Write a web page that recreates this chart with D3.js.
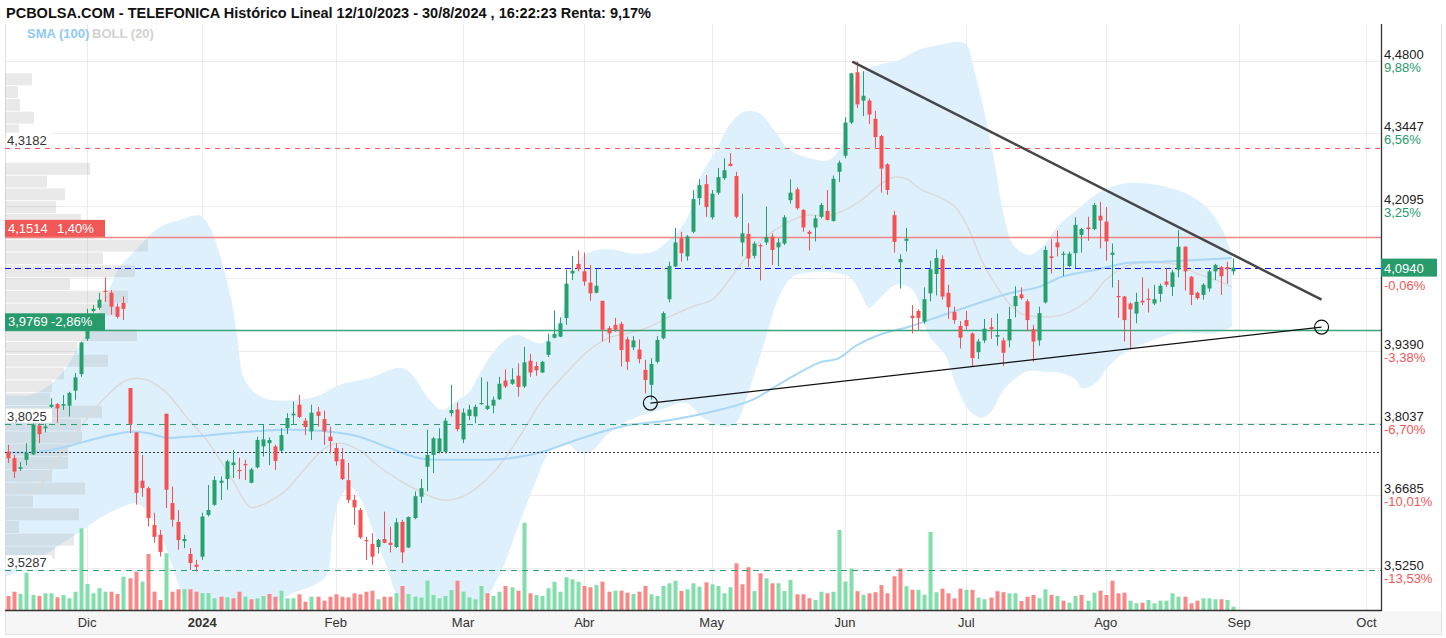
<!DOCTYPE html>
<html><head><meta charset="utf-8">
<script src="https://cdn.jsdelivr.net/npm/d3@7"></script>
<style>body{margin:0;background:#fff;}svg{display:block;font-family:"Liberation Sans",Arial,sans-serif;}</style>
</head><body><svg id="c" width="1446" height="638"></svg>
<script>
// ---------- DATA (one trading day per index, 14/11/2023 .. 30/08/2024) ----------
const open = [3.750,3.738,3.718,3.735,3.745,3.799,3.794,3.834,3.839,3.836,
 3.836,3.864,3.895,3.961,4.013,4.019,4.051,4.047,4.021,4.028,
 3.869,3.786,3.696,3.682,3.613,3.595,3.821,3.654,3.619,3.583,
 3.559,3.539,3.554,3.632,3.651,3.692,3.699,3.725,3.716,3.727,
 3.692,3.721,3.760,3.766,3.760,3.752,3.794,3.818,3.838,3.808,
 3.788,3.825,3.811,3.778,3.757,3.736,3.697,3.660,3.641,3.585,
 3.578,3.572,3.587,3.580,3.572,3.619,3.571,3.626,3.666,3.722,
 3.744,3.750,3.750,3.822,3.829,3.773,3.817,3.816,3.839,3.830,
 3.836,3.848,3.883,3.877,3.892,3.872,3.920,3.910,3.898,3.931,
 3.963,3.965,4.000,4.083,4.101,4.087,4.066,4.047,4.032,3.981,
 3.987,3.989,3.960,3.945,3.941,3.903,3.875,3.918,3.962,4.035,
 4.096,4.149,4.115,4.161,4.224,4.250,4.188,4.234,4.261,4.288,
 4.265,4.141,4.157,4.116,4.136,4.141,4.152,4.132,4.139,4.220,
 4.240,4.202,4.161,4.169,4.189,4.200,4.181,4.273,4.303,4.365,
 4.459,4.406,4.406,4.372,4.340,4.287,4.192,4.104,4.144,4.004,
 4.013,3.993,4.046,4.082,4.110,4.047,4.011,3.985,3.996,3.971,
 3.936,3.958,3.983,3.965,3.958,3.958,4.022,4.044,4.031,3.979,
 3.958,4.029,4.115,4.141,4.118,4.097,4.121,4.155,4.169,4.166,
 4.191,4.180,4.118,4.041,4.040,4.027,4.008,4.032,4.036,4.027,
 4.045,4.068,4.058,4.090,4.133,4.077,4.047,4.043,4.055,4.087,
 4.095,4.095,4.087];
const high = [3.763,3.744,3.731,3.766,3.803,3.803,3.802,3.850,3.841,3.856,
 3.862,3.897,3.956,4.017,4.024,4.047,4.076,4.052,4.027,4.040,
 3.869,3.786,3.744,3.685,3.636,3.604,3.821,3.685,3.641,3.595,
 3.570,3.548,3.636,3.688,3.704,3.704,3.735,3.753,3.739,3.735,
 3.720,3.778,3.800,3.777,3.763,3.794,3.822,3.844,3.856,3.813,
 3.838,3.834,3.827,3.797,3.766,3.757,3.729,3.669,3.645,3.591,
 3.598,3.587,3.638,3.610,3.626,3.623,3.629,3.676,3.699,3.791,
 3.778,3.794,3.813,3.875,3.842,3.831,3.838,3.838,3.889,3.881,
 3.853,3.890,3.904,3.906,3.915,3.946,3.933,3.918,3.920,3.971,
 4.014,4.001,4.090,4.116,4.126,4.122,4.099,4.091,4.032,3.985,
 4.000,3.993,3.965,3.966,3.960,3.922,3.925,3.966,4.012,4.105,
 4.168,4.161,4.155,4.239,4.259,4.267,4.239,4.280,4.298,4.308,
 4.273,4.232,4.177,4.143,4.139,4.208,4.158,4.149,4.192,4.259,
 4.244,4.203,4.164,4.192,4.215,4.239,4.266,4.294,4.375,4.458,
 4.479,4.461,4.410,4.387,4.342,4.289,4.200,4.119,4.168,4.024,
 4.016,4.057,4.107,4.128,4.117,4.062,4.021,3.994,4.013,3.973,
 3.961,3.998,4.000,4.008,3.963,4.021,4.059,4.057,4.035,3.987,
 4.021,4.134,4.147,4.163,4.124,4.124,4.188,4.168,4.189,4.215,
 4.217,4.207,4.139,4.071,4.041,4.029,4.047,4.076,4.055,4.062,
 4.064,4.093,4.090,4.164,4.134,4.078,4.049,4.065,4.090,4.101,
 4.097,4.105,4.111];
const low = [3.729,3.701,3.714,3.725,3.744,3.766,3.786,3.832,3.804,3.828,
 3.816,3.847,3.890,3.957,4.010,4.015,4.030,4.006,3.999,3.996,
 3.785,3.651,3.666,3.610,3.580,3.554,3.645,3.610,3.567,3.570,
 3.529,3.526,3.548,3.629,3.649,3.660,3.679,3.701,3.699,3.697,
 3.691,3.719,3.741,3.725,3.716,3.750,3.783,3.800,3.813,3.781,
 3.772,3.797,3.763,3.747,3.724,3.697,3.654,3.613,3.587,3.548,
 3.539,3.560,3.579,3.562,3.570,3.542,3.570,3.624,3.654,3.676,
 3.710,3.747,3.747,3.816,3.788,3.766,3.809,3.803,3.838,3.828,
 3.822,3.847,3.869,3.875,3.853,3.869,3.890,3.892,3.897,3.927,
 3.962,3.964,3.987,4.071,4.087,4.060,4.032,4.046,3.956,3.953,
 3.974,3.909,3.903,3.940,3.915,3.859,3.847,3.915,3.960,4.029,
 4.095,4.105,4.107,4.158,4.211,4.189,4.184,4.230,4.258,4.283,
 4.186,4.115,4.095,4.111,4.070,4.136,4.099,4.097,4.136,4.214,
 4.202,4.161,4.126,4.143,4.186,4.182,4.180,4.254,4.298,4.362,
 4.392,4.377,4.362,4.318,4.234,4.230,4.122,4.055,4.124,3.971,
 3.978,3.989,4.031,4.042,4.034,3.998,3.989,3.943,3.978,3.910,
 3.923,3.953,3.961,3.948,3.910,3.945,4.001,4.034,3.975,3.918,
 3.948,4.027,4.083,4.115,4.078,4.095,4.093,4.122,4.144,4.164,
 4.130,4.107,4.057,4.000,3.956,3.941,3.990,4.024,4.010,4.024,
 4.030,4.058,4.041,4.076,4.051,4.024,4.034,4.034,4.049,4.071,
 4.043,4.064,4.080];
const close = [3.738,3.713,3.721,3.748,3.801,3.783,3.797,3.838,3.831,3.839,
 3.860,3.889,3.954,4.000,4.017,4.034,4.049,4.021,4.002,4.017,
 3.802,3.673,3.682,3.626,3.591,3.563,3.679,3.623,3.585,3.587,
 3.542,3.535,3.629,3.641,3.697,3.696,3.732,3.730,3.714,3.725,
 3.717,3.772,3.773,3.772,3.733,3.781,3.813,3.821,3.815,3.796,
 3.823,3.817,3.788,3.770,3.732,3.699,3.660,3.646,3.590,3.583,
 3.554,3.585,3.580,3.576,3.618,3.562,3.628,3.667,3.682,3.744,
 3.775,3.775,3.808,3.828,3.792,3.823,3.829,3.834,3.841,3.836,
 3.847,3.877,3.872,3.885,3.871,3.917,3.898,3.902,3.918,3.956,
 3.970,3.990,4.064,4.088,4.091,4.068,4.046,4.060,3.978,3.971,
 3.978,3.940,3.918,3.958,3.923,3.884,3.914,3.959,4.009,4.097,
 4.141,4.121,4.152,4.222,4.248,4.207,4.232,4.263,4.276,4.284,
 4.189,4.158,4.111,4.139,4.134,4.151,4.127,4.141,4.188,4.234,
 4.205,4.169,4.157,4.186,4.211,4.183,4.260,4.290,4.365,4.457,
 4.399,4.415,4.380,4.338,4.279,4.239,4.142,4.110,4.148,4.000,
 4.000,4.035,4.091,4.112,4.040,4.020,3.996,3.963,3.985,3.925,
 3.956,3.980,3.979,3.968,3.935,3.998,4.041,4.037,3.996,3.956,
 4.009,4.127,4.112,4.132,4.120,4.120,4.174,4.166,4.166,4.211,
 4.182,4.143,4.122,4.039,3.996,4.016,4.030,4.029,4.034,4.035,
 4.060,4.062,4.085,4.133,4.087,4.043,4.037,4.062,4.087,4.099,
 4.078,4.091,4.094];
const volume = [14,18.3,16,37.3,15,14,16.7,16.7,12.7,15,
 11.7,18.3,81.7,26,16.7,21.7,18.3,18.3,16,33.3,
 31.7,38.3,28.3,56,18.3,10,56.7,18.3,20.7,20.7,
 20.7,18.3,17,17,11.7,13.3,12.7,11.7,18.3,13.3,
 10.7,11.7,14,16,13.3,19.3,11.7,11.7,15.7,8.3,
 13.3,13.3,9.3,13.3,15.7,13.3,12.7,16.7,15.7,18.3,
 19.3,10.7,13.3,13.3,16.7,24,16,13.3,12.5,29.3,
 15,11.7,14,20,29.3,18.3,12.7,10.7,24,16.7,
 14,18.3,24,22.7,19.3,87.3,16.7,15,14,21.7,
 28.3,18.3,32.7,30.7,28.3,24,22.7,25,28.3,18.3,
 19.3,19.3,17.3,16,18.3,24,15.7,14,24,26.7,
 29.3,19,20.7,26.7,23.3,27.7,25.7,24,16.7,22.7,
 46.7,25.7,42.7,19,36.7,31.7,26.7,26.7,19,30,
 15.7,15.7,11.7,10,18.3,16.7,18.3,80,28.4,41.5,
 18.8,15.3,16.7,17.8,24.9,16.7,33.7,41.5,23.8,20.2,
 20.2,15.3,78,17.8,21.3,16.7,11.7,21.3,20.2,20.2,
 12.4,10.7,12.4,18.8,17.8,16.7,16.7,8.9,13.2,15,
 11.7,20.7,15,14,9.3,7.3,14,15,9.3,17.3,
 19.3,15,29.3,16.7,17.3,9.3,6.7,7.3,10,6.7,
 9.3,9.3,16.7,13.3,13.3,6.7,9.3,11.7,11.7,10.7,
 10.7,10,3.3];

// month ticks (trading-day index of first session of the month)
const monthLabels = ["Dic","2024","Feb","Mar","Abr","May","Jun","Jul","Ago","Sep","Oct"];
const monthIndex  = [13,32,54,75,95,116,138,158,181,203,224];

// right price axis
const priceTicks = [4.48,4.3447,4.2095,3.939,3.8037,3.6685,3.525];
const priceTickText = ["4,4800","4,3447","4,2095","3,9390","3,8037","3,6685","3,5250"];
const pctTickText = ["9,88%","6,56%","3,25%","-3,38%","-6,70%","-10,01%","-13,53%"];
const gridPrices = [4.48,4.3447,4.2095,4.0742,3.939,3.8037,3.6685,3.5333];
const lastPrice = 4.094, lastPctText = "-0,06%";

// indicators: [day index, price]
const bollUpper = [[-0.5,3.856],[3.6,3.856],[6.9,3.875],[9.3,3.903],[11.8,3.950],[14.0,3.987],[16.8,4.058],[18.4,4.095],[20.5,4.121],[25.0,4.170],[28.3,4.183],[31.6,4.191],[33.2,4.170],[34.9,4.118],[36.0,4.071],[37.0,4.021],[37.8,3.959],[39.0,3.884],[42.0,3.851],[48.1,3.847],[51.4,3.856],[54.6,3.875],[59.6,3.888],[64.5,3.907],[66.2,3.899],[69.5,3.847],[71.6,3.828],[73.6,3.843],[76.1,3.862],[77.2,3.884],[79.9,3.935],[82.7,3.965],[84.3,3.968],[85.9,3.959],[88.1,3.953],[90.9,3.996],[92.5,4.065],[94.7,4.114],[97.0,4.127],[100.3,4.127],[102.4,4.121],[106.2,4.123],[109.0,4.146],[111.8,4.183],[113.9,4.258],[116.8,4.314],[118.9,4.360],[121.4,4.385],[123.8,4.383],[126.3,4.351],[128.8,4.314],[132.1,4.299],[135.4,4.295],[137.8,4.332],[140.3,4.454],[143.6,4.473],[146.9,4.482],[150.2,4.501],[153.5,4.510],[156.8,4.516],[158.1,4.510],[159.3,4.463],[160.9,4.389],[162.6,4.295],[164.2,4.192],[165.8,4.136],[168.3,4.118],[170.8,4.136],[173.3,4.174],[176.6,4.205],[179.0,4.228],[181.5,4.243],[184.8,4.252],[189.7,4.248],[194.7,4.230],[198.0,4.202],[200.4,4.161],[201.8,4.118]];
const bollLower = [[-0.5,3.516],[3.6,3.539],[8.5,3.576],[12.3,3.604],[15.1,3.626],[18.4,3.645],[21.2,3.654],[23.3,3.632],[25.8,3.576],[27.8,3.511],[29.9,3.445],[33.2,3.380],[38.2,3.399],[41.5,3.445],[46.4,3.483],[50.5,3.501],[52.5,3.520],[53.5,3.604],[54.6,3.660],[56.3,3.684],[57.9,3.666],[60.1,3.604],[62.4,3.535],[64.0,3.483],[66.2,3.445],[71.1,3.445],[77.7,3.464],[81.0,3.520],[84.3,3.617],[87.1,3.697],[89.2,3.748],[92.0,3.766],[94.2,3.748],[95.8,3.748],[99.1,3.785],[102.4,3.809],[107.4,3.828],[111.8,3.841],[114.4,3.815],[118.4,3.796],[120.0,3.804],[122.2,3.866],[125.0,3.965],[127.1,4.039],[129.3,4.077],[131.6,4.084],[134.9,4.086],[138.7,4.077],[140.8,4.041],[141.9,4.019],[144.1,4.041],[146.4,4.062],[149.0,4.054],[150.2,4.028],[151.8,3.968],[154.6,3.929],[156.3,3.875],[158.4,3.828],[160.6,3.813],[162.2,3.826],[163.9,3.862],[166.2,3.888],[168.3,3.901],[171.1,3.899],[173.8,3.897],[176.1,3.884],[177.1,3.869],[179.4,3.879],[181.0,3.903],[182.6,3.922],[184.8,3.940],[187.6,3.953],[190.2,3.965],[193.0,3.972],[195.8,3.972],[199.1,3.972],[201.8,3.983]];
const bollMid = [[-0.2,3.692],[3.6,3.673],[9.7,3.762],[15.1,3.841],[19.6,3.884],[22.9,3.884],[26.1,3.860],[29.4,3.815],[32.7,3.772],[37.0,3.697],[39.8,3.647],[41.0,3.647],[45.3,3.673],[49.2,3.722],[52.5,3.759],[54.6,3.766],[57.9,3.753],[61.2,3.722],[64.5,3.697],[67.3,3.679],[71.6,3.660],[74.9,3.666],[79.9,3.710],[84.3,3.778],[88.1,3.847],[92.0,3.897],[95.8,3.940],[99.1,3.963],[102.4,3.972],[105.2,3.981],[109.0,4.002],[112.8,4.021],[116.1,4.034],[118.9,4.071],[121.7,4.114],[124.3,4.146],[128.3,4.177],[131.6,4.192],[135.4,4.191],[139.8,4.213],[143.6,4.247],[145.7,4.262],[148.1,4.260],[150.7,4.239],[153.5,4.226],[156.3,4.206],[158.4,4.166],[160.6,4.106],[162.9,4.061],[165.0,4.028],[167.2,4.007],[170.0,4.002],[173.8,4.006],[178.2,4.034],[181.0,4.071],[184.8,4.099],[189.2,4.103],[193.0,4.099],[195.8,4.084],[199.1,4.071],[201.8,4.058]];
const sma100 = [[-0.5,3.748],[6.9,3.753],[12.3,3.768],[16.8,3.781],[20.0,3.787],[22.9,3.785],[26.1,3.776],[29.4,3.778],[33.2,3.781],[37.0,3.785],[45.3,3.791],[53.5,3.787],[57.9,3.778],[62.4,3.759],[67.8,3.738],[74.4,3.735],[82.7,3.738],[88.1,3.750],[93.7,3.772],[99.1,3.791],[102.4,3.800],[109.0,3.809],[117.2,3.828],[122.7,3.847],[128.3,3.884],[133.7,3.916],[137.0,3.925],[139.8,3.948],[143.6,3.968],[149.0,3.985],[154.6,4.007],[160.1,4.028],[165.5,4.047],[170.0,4.058],[173.8,4.077],[179.4,4.090],[184.8,4.103],[190.2,4.105],[195.8,4.108],[201.8,4.112]];

// volume-at-price profile (bins from the top price downward)
const profileTop = 4.457, profileStep = 0.0239;
const profileVol = [27,13,15,29,14,0,0,85,42,60,51,76,90,143,98,130,65,123,110,95,132,72,103,59,47,45,97,76,77,63,63,47,80,28,74,14,69,50];

// horizontal levels and trendlines
const levelPrices = [4.3182,4.1514,4.094,3.9769,3.8025,3.75,3.5287];
const trendUpper = [[139.2,4.479],[216.6,4.034]];
const trendLower = [[105.9,3.841],[216.6,3.983]];

// ---------- CHART ----------
const L=5,R=1381,T=24,B=610;
const svg=d3.select("#c");
const x=d3.scaleLinear().domain([-0.544,226.4]).range([L,R]);
const y=d3.scaleLinear().domain([3.8037,4.48]).range([423,61]);
const yv=d3.scaleLinear().domain([0,100]).range([B,B-100]);
const xp=d3.scaleLinear().domain([0,150]).range([L,L+150]);
const UP="#26a06c",DN="#f45252",VUP="#82dfab",VDN="#f98787";
const crisp=v=>Math.round(v)+0.5;

svg.append("defs").append("clipPath").attr("id","clip").append("rect")
  .attr("x",L).attr("y",T).attr("width",R-L).attr("height",B-T);

// frame & x-axis strip
svg.append("rect").attr("x",L).attr("y",611).attr("width",1441-L).attr("height",23).attr("fill","#f6f6f6");
svg.append("line").attr("x1",L+0.5).attr("x2",L+0.5).attr("y1",T).attr("y2",634).attr("stroke","#e2e2e2");
svg.append("line").attr("x1",1441.5).attr("x2",1441.5).attr("y1",T).attr("y2",634).attr("stroke","#e2e2e2");
svg.append("line").attr("x1",L).attr("x2",1442).attr("y1",634.5).attr("y2",634.5).attr("stroke","#e2e2e2");

// grid
const grid=svg.append("g");
grid.selectAll(".hg").data(gridPrices).join("line")
  .attr("x1",L).attr("x2",R).attr("y1",d=>crisp(y(d))).attr("y2",d=>crisp(y(d)))
  .attr("stroke","#ececec");
grid.selectAll(".vg").data(monthIndex).join("line")
  .attr("x1",d=>crisp(x(d))).attr("x2",d=>crisp(x(d))).attr("y1",T).attr("y2",B)
  .attr("stroke","#ececec");

const plot=svg.append("g").attr("clip-path","url(#clip)");

// Bollinger band
const curve=d3.curveCatmullRom.alpha(0.5);
const ln=d3.line().x(d=>x(d[0])).y(d=>y(d[1])).curve(curve);
const upPath=ln(bollUpper), loPath=ln(bollLower.slice().reverse());
plot.append("path").attr("d",upPath+"L"+loPath.slice(1)+"Z").attr("fill","#def0fc");

// volume profile
plot.selectAll(".pf").data(profileVol).join("rect")
  .attr("x",L).attr("width",d=>xp(d)-L)
  .attr("y",(d,k)=>y(profileTop-k*profileStep))
  .attr("height",(d,k)=>y(profileTop-(k+0.93)*profileStep)-y(profileTop-k*profileStep))
  .attr("fill","rgba(170,170,170,0.26)");

// volume bars
const idx=d3.range(open.length);
const vUp=i=> i===0 ? close[i]>=open[i] : close[i]>=close[i-1];
plot.selectAll(".vb").data(idx).join("rect")
  .attr("x",i=>Math.round(x(i))-1.5).attr("width",4)
  .attr("y",i=>yv(volume[i])).attr("height",i=>B-yv(volume[i]))
  .attr("fill",i=>vUp(i)?VUP:VDN);

// bollinger mid + SMA
plot.append("path").attr("d",ln(bollMid)).attr("fill","none").attr("stroke","#dadada").attr("stroke-width",1.5);
plot.append("path").attr("d",ln(sma100)).attr("fill","none").attr("stroke","#a9d7f7").attr("stroke-width",2);

// level lines
const lvlStyle=[
  {c:"#f25a5a",d:"5,5",w:1},
  {c:"#f28484",d:null,w:1.5},
  {c:"#1010ff",d:"6,4",w:1.2},
  {c:"#3aa57a",d:null,w:1.5},
  {c:"#2e9e70",d:"6,5",w:1},
  {c:"#333",d:"2,2",w:1},
  {c:"#2e9e70",d:"6,5",w:1}];
plot.selectAll(".lv").data(levelPrices).join("line")
  .attr("x1",L).attr("x2",R).attr("y1",d=>crisp(y(d))).attr("y2",d=>crisp(y(d)))
  .attr("stroke",(d,k)=>lvlStyle[k].c).attr("stroke-width",(d,k)=>lvlStyle[k].w)
  .attr("stroke-dasharray",(d,k)=>lvlStyle[k].d);

// candles
const cg=plot.append("g");
cg.selectAll(".wk").data(idx).join("line")
  .attr("x1",i=>crisp(x(i))).attr("x2",i=>crisp(x(i)))
  .attr("y1",i=>y(high[i])).attr("y2",i=>y(low[i]))
  .attr("stroke",i=>close[i]>=open[i]?UP:DN).attr("stroke-width",1);
cg.selectAll(".bd").data(idx).join("rect")
  .attr("x",i=>Math.round(x(i))-1.5).attr("width",4)
  .attr("y",i=>y(Math.max(open[i],close[i])))
  .attr("height",i=>Math.max(1.2,Math.abs(y(open[i])-y(close[i]))))
  .attr("fill",i=>close[i]>=open[i]?UP:DN);

// trendlines
plot.append("line").attr("x1",x(trendUpper[0][0])).attr("y1",y(trendUpper[0][1]))
  .attr("x2",x(trendUpper[1][0])).attr("y2",y(trendUpper[1][1]))
  .attr("stroke","#474747").attr("stroke-width",2.5);
plot.append("line").attr("x1",x(trendLower[0][0])).attr("y1",y(trendLower[0][1]))
  .attr("x2",x(trendLower[1][0])).attr("y2",y(trendLower[1][1]))
  .attr("stroke","#111").attr("stroke-width",1.3);
plot.selectAll(".tc").data(trendLower).join("circle")
  .attr("cx",d=>x(d[0])).attr("cy",d=>y(d[1])).attr("r",7)
  .attr("fill","none").attr("stroke","#111").attr("stroke-width",1.2);

// left level labels
const fs="13px";
function plainLabel(txt,price,dy){
  const yy=y(price);
  svg.append("rect").attr("x",L+1).attr("y",yy+dy-12).attr("width",46).attr("height",14).attr("fill","#fff");
  svg.append("text").attr("x",7).attr("y",yy+dy).attr("font-size",fs).attr("fill","#333").text(txt);
}
plainLabel("4,3182",levelPrices[0],-3);
plainLabel("3,8025",levelPrices[4],-3);
plainLabel("3,5287",levelPrices[6],-3);
function boxLabel(a,b,price,col,bx){
  const yy=y(price);
  svg.append("rect").attr("x",L).attr("y",yy-17).attr("width",100).attr("height",17).attr("fill",col);
  svg.append("text").attr("x",8).attr("y",yy-4).attr("font-size",fs).attr("fill","#fff").text(a);
  svg.append("text").attr("x",bx).attr("y",yy-4).attr("font-size",fs).attr("fill","#fff").text(b);
}
boxLabel("4,1514","1,40%",levelPrices[1],"#f25757",57);
boxLabel("3,9769","-2,86%",levelPrices[3],"#279b6c",51);

// right axis
svg.append("line").attr("x1",R+0.5).attr("x2",R+0.5).attr("y1",T).attr("y2",B+1).attr("stroke","#333").attr("stroke-width",1.3);
svg.append("line").attr("x1",L).attr("x2",R+1).attr("y1",B+0.5).attr("y2",B+0.5).attr("stroke","#333").attr("stroke-width",1.3);
const ra=svg.append("g").attr("font-size",fs);
ra.selectAll(".pt").data(priceTicks).join("text")
  .attr("x",R+3).attr("y",d=>y(d)-2).attr("fill","#222").text((d,k)=>priceTickText[k]);
ra.selectAll(".pp").data(priceTicks).join("text")
  .attr("x",R+3).attr("y",d=>y(d)+11).attr("fill",(d,k)=>pctTickText[k][0]==="-"?"#f25757":"#279b6c")
  .text((d,k)=>pctTickText[k]);
svg.append("rect").attr("x",R).attr("y",y(lastPrice)-9).attr("width",56).attr("height",18).attr("fill","#279b6c");
svg.append("text").attr("x",R+3).attr("y",y(lastPrice)+5).attr("font-size",fs).attr("fill","#fff")
  .text(lastPrice.toFixed(4).replace(".",","));
svg.append("text").attr("x",R+3).attr("y",y(lastPrice)+22).attr("font-size",fs).attr("fill","#f25757").text(lastPctText);

// x axis labels
svg.selectAll(".ml").data(monthIndex).join("text")
  .attr("x",d=>x(d)).attr("y",627).attr("text-anchor","middle").attr("font-size",fs)
  .attr("fill","#333").attr("font-weight",(d,k)=>monthLabels[k]==="2024"?"bold":"normal")
  .text((d,k)=>monthLabels[k]);

// title and legend
svg.append("text").attr("x",6).attr("y",18).attr("font-size","14px").attr("font-weight","bold").attr("fill","#111")
  .attr("textLength",645).attr("lengthAdjust","spacingAndGlyphs")
  .text("PCBOLSA.COM - TELEFONICA Histórico Lineal 12/10/2023 - 30/8/2024 , 16:22:23 Renta: 9,17%");
svg.append("text").attr("x",27).attr("y",38).attr("font-size","13px").attr("font-weight","bold").attr("fill","#8fcaf4").text("SMA (100)");
svg.append("text").attr("x",92).attr("y",38).attr("font-size","13px").attr("font-weight","bold").attr("fill","#d2d2d2").text("BOLL (20)");
</script></body></html>
